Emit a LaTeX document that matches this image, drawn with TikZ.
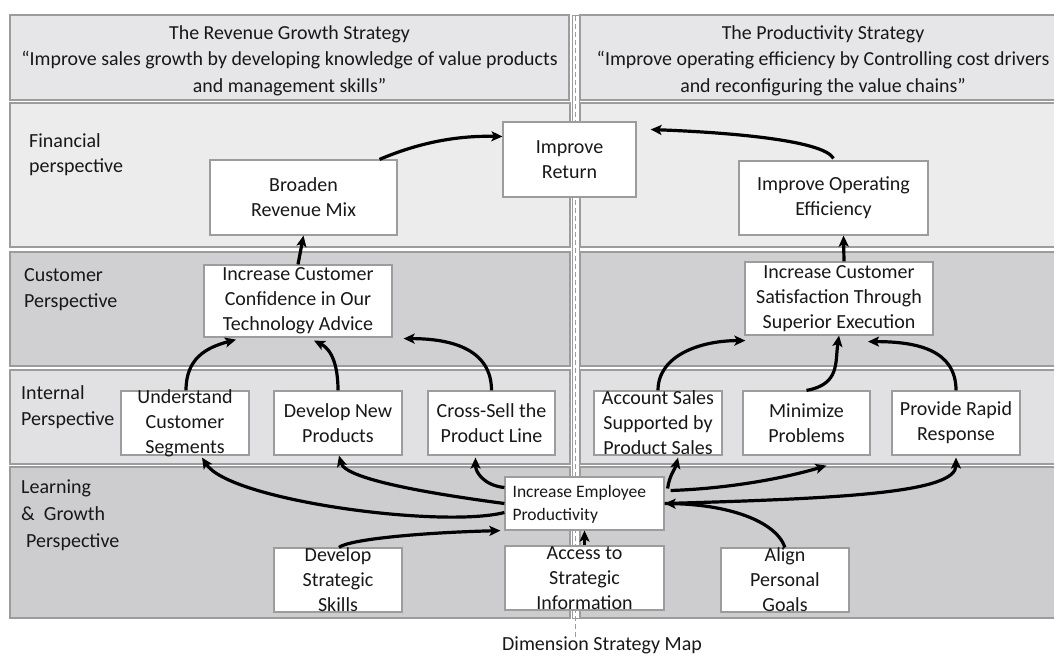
\documentclass[tikz,border=0pt]{standalone}
\usepackage{fontspec}
\setmainfont{Carlito}
\usetikzlibrary{arrows.meta}
\definecolor{hdrfill}{HTML}{E6E6E8}
\definecolor{finfill}{HTML}{ECECEC}
\definecolor{cusfill}{HTML}{D0D0D2}
\definecolor{intfill}{HTML}{E1E1E3}
\definecolor{lrnfill}{HTML}{CDCDCF}
\definecolor{edge}{HTML}{9C9C9C}
\definecolor{ink}{HTML}{181818}
\begin{document}
\begin{tikzpicture}[x=1pt,y=-1pt,
  band/.style={draw=edge, line width=1.2pt},
  box/.style={draw=edge, fill=white, line width=1.2pt, inner sep=0pt},
  txt/.style={align=center, inner sep=0pt, text=ink, font=\fontsize{20}{25}\selectfont},
  hdrtxt/.style={align=center, inner sep=0pt, text=ink, font=\fontsize{19.9}{26.5}\selectfont},
  rowlbl/.style={align=left, inner sep=0pt, text=ink, anchor=west, font=\fontsize{20}{25.5}\selectfont},
  arr/.style={line width=3.2pt, draw=black, -{Stealth[length=11pt,width=10pt,inset=2.5pt]}}
]
\useasboundingbox (0,0) rectangle (1054,656);
\clip (0,0) rectangle (1054,656);

% headers
\node[band, fill=hdrfill, minimum width=559pt, minimum height=85pt, inner sep=0pt,
  label={[hdrtxt, yshift=-3pt]center:{The Revenue Growth Strategy\\“Improve sales growth by developing knowledge of value products\\and management skills”}}] (hl) at (289.5,57.5) {};
\node[band, fill=hdrfill, minimum width=486pt, minimum height=85pt, inner sep=0pt,
  label={[hdrtxt, yshift=-3pt]center:{The Productivity Strategy\\“Improve operating efficiency by Controlling cost drivers\\and reconfiguring the value chains”}}] (hr) at (823,57.5) {};

% bands
\path[band, fill=finfill] (10,103) rectangle (570,247);
\path[band, fill=finfill] (580,103) rectangle (1066,247);
\path[band, fill=cusfill] (10,252) rectangle (570,366);
\path[band, fill=cusfill] (580,252) rectangle (1066,366);
\path[band, fill=intfill] (10,370) rectangle (570,464);
\path[band, fill=intfill] (580,370) rectangle (1066,464);
\path[band, fill=lrnfill] (10,467) rectangle (570,618);
\path[band, fill=lrnfill] (580,467) rectangle (1066,618);

% divider
\path[draw=edge, fill=white, line width=1pt] (572,15) rectangle (579,618);
\draw[edge, line width=0.8pt, dash pattern=on 5pt off 3pt] (575.5,16) -- (575.5,637);

% row labels
\node[rowlbl] (lfin) at (29,154.5) {Financial\\perspective};
\node[rowlbl] (lcus) at (24,289.5) {Customer\\Perspective};
\node[rowlbl] (lint) at (21,407) {Internal\\Perspective};
\node[rowlbl, font=\fontsize{20}{27}\selectfont] (llrn) at (21,515) {Learning\\\&\ \ Growth\\\hspace{5pt}Perspective};

% boxes
\node[box, minimum width=133pt, minimum height=75pt, label={[txt]center:{Improve\\Return}}] (ret) at (569.5,159.5) {};
\node[box, minimum width=187pt, minimum height=75pt, label={[txt]center:{Broaden\\Revenue Mix}}] (brm) at (303.5,197.5) {};
\node[box, minimum width=189pt, minimum height=74pt, label={[txt]center:{Improve Operating\\Efficiency}}] (ioe) at (833.5,198) {};
\node[box, minimum width=188pt, minimum height=72pt, label={[txt]center:{Increase Customer\\Confidence in Our\\Technology Advice}}] (icc) at (298,301) {};
\node[box, minimum width=188pt, minimum height=73pt, label={[txt]center:{Increase Customer\\Satisfaction Through\\Superior Execution}}] (ics) at (839,298.5) {};
\node[box, minimum width=128pt, minimum height=64pt, label={[txt]center:{Understand\\Customer\\Segments}}] (ucs) at (185,423) {};
\node[box, minimum width=128pt, minimum height=64pt, label={[txt]center:{Develop New\\Products}}] (dnp) at (338,423) {};
\node[box, minimum width=127pt, minimum height=64pt, label={[txt]center:{Cross-Sell the\\Product Line}}] (cs) at (491.5,423) {};
\node[box, minimum width=128pt, minimum height=64pt, label={[txt]center:{Account Sales\\Supported by\\Product Sales}}] (as) at (658,423) {};
\node[box, minimum width=127pt, minimum height=64pt, label={[txt]center:{Minimize\\Problems}}] (mp) at (806.5,423) {};
\node[box, minimum width=128pt, minimum height=64pt, label={[txt]center:{Provide Rapid\\Response}}] (prr) at (956,423) {};
\node[box, minimum width=159pt, minimum height=53pt] (iep) at (584.5,503.5) {};
\node[txt, align=left, anchor=west, font=\fontsize{17.5}{23}\selectfont] (ieptxt) at ([xshift=8pt,yshift=-1pt]iep.west) {Increase Employee\\Productivity};
\node[box, minimum width=128pt, minimum height=64pt, label={[txt]center:{Develop\\Strategic\\Skills}}] (dss) at (338,580) {};
\node[box, minimum width=159pt, minimum height=64pt, label={[txt]center:{Access to\\Strategic\\Information}}] (asi) at (584.5,578) {};
\node[box, minimum width=128pt, minimum height=64pt, label={[txt]center:{Align\\Personal\\Goals}}] (apg) at (785,580) {};

% caption
\node[txt] (cap) at (602,645) {Dimension Strategy Map};

% arrows
\draw[arr] ([xshift=76pt]brm.north) .. controls +(40,-17) and +(-45,-1) .. ([yshift=23pt]ret.west);
\draw[arr] ([yshift=2pt]ioe.north) .. controls +(-10,-18) and +(80,3) .. ([xshift=14pt,yshift=30pt]ret.east);
\draw[arr] (icc.north) -- (brm.south);
\draw[arr] ([xshift=5pt]ics.north) -- ([xshift=10pt]ioe.south);
\draw[arr] ([xshift=1pt]ucs.north) .. controls +(0,-32) and +(-30,8) .. ([xshift=-62pt,yshift=-2pt]icc.south);
\draw[arr] (dnp.north) .. controls +(0,-35) and +(12,6) .. ([xshift=16pt,yshift=-3pt]icc.south);
\draw[arr] (cs.north) .. controls +(0,-40) and +(50,0) .. ([xshift=11pt,yshift=-1pt]icc.south east);
\draw[arr] (as.north) .. controls +(0,-35) and +(-45,0) .. ([xshift=1pt,yshift=-5pt]ics.south west);
\draw[arr] (mp.north) .. controls +(33.5,-6) and +(-4,27) .. (ics.south);
\draw[arr] (prr.north) .. controls +(0,-40) and +(50,0) .. ([xshift=29pt,yshift=-6pt]ics.south);
\draw[arr] ([yshift=-9pt]iep.west) .. controls +(-63,16) and +(28,43) .. ([xshift=17pt,yshift=-2pt]ucs.south);
\draw[arr] (iep.west) .. controls +(-60,-8) and +(7,25) .. ([xshift=1pt]dnp.south);
\draw[arr] ([yshift=16pt]iep.west) .. controls +(-20,-2) and +(0,15) .. ([xshift=-16pt,yshift=-2pt]cs.south);
\draw[arr] ([xshift=1pt]dss.north) .. controls +(10,-8) and +(-80,2) .. ([xshift=-4pt]iep.south west);
\draw[arr] (asi.north) -- (iep.south);
\draw[arr] ([xshift=3pt,yshift=15pt]iep.east) .. controls +(2,-14) and +(-3,12) .. ([xshift=20pt,yshift=-2pt]as.south);
\draw[arr] ([xshift=6pt,yshift=13pt]iep.east) .. controls +(60,-2) and +(-40,12) .. ([xshift=20pt,yshift=-10pt]mp.south);
\draw[arr] (iep.east) .. controls +(180,-5) and +(0,35) .. ([yshift=-2pt]prr.south);
\draw[arr] (apg.north) .. controls +(-10,-28) and +(60,1) .. (iep.east);
\end{tikzpicture}
\end{document}
